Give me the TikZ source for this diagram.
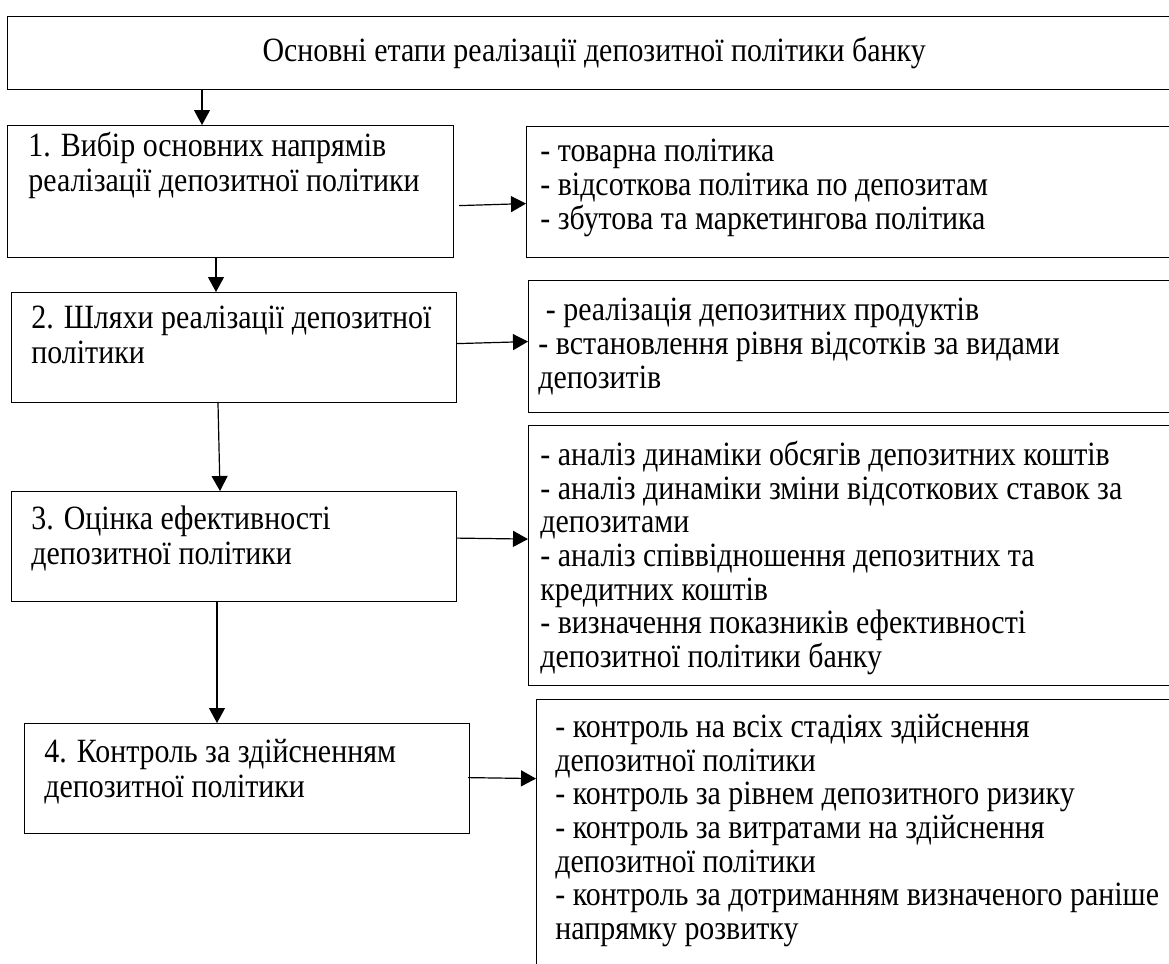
\documentclass[tikz,border=0pt]{standalone}
\usepackage{fontspec}
\setmainfont{Liberation Serif}[FakeStretch=0.88]
\usetikzlibrary{arrows.meta}

\begin{document}
\begin{tikzpicture}[x=0.5pt, y=-0.5pt, >={Triangle[width=8pt,length=7.5pt]},
    frame/.style={draw, line width=0.6pt, anchor=north west, inner sep=0pt},
    stagetext/.style={anchor=north west, inner sep=0pt, align=left,
        font=\fontsize{17}{17.5}\selectfont},
    listtext/.style={stagetext, font=\fontsize{17}{16.8}\selectfont},
    link/.style={->, line width=0.6pt}]

    \useasboundingbox (0,0) rectangle (1169,964);

    % title
    \node[frame, minimum width=586.5pt, minimum height=36.5pt,
        font=\fontsize{17}{18}\selectfont] (title) at (7,16)
        {Основні етапи реалізації депозитної політики банку};

    % stages
    \node[frame, minimum width=223pt, minimum height=66pt] (b1) at (7,125) {};
    \node[frame, minimum width=222.5pt, minimum height=55pt] (b2) at (11,292) {};
    \node[frame, minimum width=222.5pt, minimum height=55pt] (b3) at (11,491) {};
    \node[frame, minimum width=222.5pt, minimum height=55pt] (b4) at (24,723) {};

    \node[stagetext] at (28,132) {1. Вибір основних напрямів\\реалізації депозитної політики};
    \node[stagetext] at (31,306) {2. Шляхи реалізації депозитної\\політики};
    \node[stagetext] at (31,506) {3. Оцінка ефективності\\депозитної політики};
    \node[stagetext] at (44,739) {4. Контроль за здійсненням\\депозитної політики};

    % lists
    \node[frame, minimum width=330pt, minimum height=65.5pt] (r1) at (526,126) {};
    \node[frame, minimum width=330pt, minimum height=66pt] (r2) at (528,280) {};
    \node[frame, minimum width=330pt, minimum height=130pt] (r3) at (528,425) {};
    \node[frame, minimum width=330pt, minimum height=140pt] (r4) at (536,699) {};

    \node[listtext] at (540,139) {- товарна політика\\- відсоткова політика по депозитам\\- збутова та маркетингова політика};
    \node[listtext] at (538,298) {\ - реалізація депозитних продуктів\\- встановлення рівня відсотків за видами\\депозитів};
    \node[listtext] at (540,441) {- аналіз динаміки обсягів депозитних коштів\\- аналіз динаміки зміни відсоткових ставок за\\депозитами\\- аналіз співвідношення депозитних та\\кредитних коштів\\- визначення показників ефективності\\депозитної політики банку};
    \node[listtext] at (555,714) {- контроль на всіх стадіях здійснення\\депозитної політики\\- контроль за рівнем депозитного ризику\\- контроль за витратами на здійснення\\депозитної політики\\- контроль за дотриманням визначеного раніше\\напрямку розвитку};

    % down arrows
    \draw[link] ([xshift=97.5pt]title.south west) -- ([xshift=97.5pt]b1.north west);
    \draw[link] ([xshift=104.5pt]b1.south west) -- ([xshift=102.5pt]b2.north west);
    \draw[link] ([xshift=103.5pt]b2.south west) -- ([xshift=104.5pt]b3.north west);
    \draw[link] ([xshift=103pt]b3.south west) -- ([xshift=96.5pt]b4.north west);

    % side arrows
    \draw[link] ([xshift=2.5pt, yshift=-7pt]b1.east) -- ([yshift=-5.75pt]r1.west);
    \draw[link] ([yshift=2pt]b2.east) -- ([yshift=2.5pt]r2.west);
    \draw[link] ([yshift=4.25pt]b3.east) -- ([yshift=8.25pt]r3.west);
    \draw[link] ([xshift=-1pt, yshift=0.5pt]b4.east) -- ([yshift=30.5pt]r4.west);
\end{tikzpicture}
\end{document}
